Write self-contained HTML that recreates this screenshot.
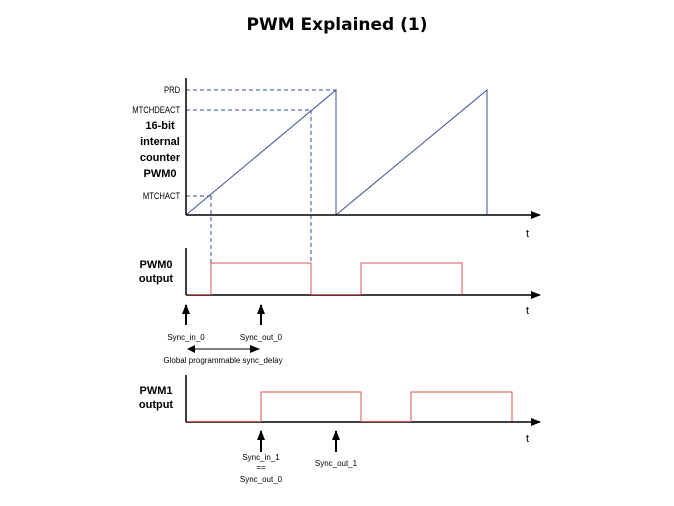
<!DOCTYPE html>
<html><head><style>
body{margin:0;background:#fff;width:674px;height:506px;overflow:hidden}
svg{display:block}
text{font-family:"Liberation Sans",Arial,sans-serif}
</style></head><body>
<svg width="674" height="506" viewBox="0 0 674 506">
<defs><marker id="a" markerWidth="10" markerHeight="8" refX="9" refY="4" orient="auto" markerUnits="userSpaceOnUse"><path d="M0,0L10,4L0,8z" fill="#000"/></marker>
<marker id="b" markerWidth="8" markerHeight="8" refX="1" refY="4" orient="auto" markerUnits="userSpaceOnUse"><path d="M8,0L0,4L8,8z" fill="#000"/></marker></defs>
<text x="337" y="30" font-size="17" font-weight="bold" text-anchor="middle" style="font-family:'DejaVu Sans',Verdana,sans-serif">PWM Explained (1)</text>
<!-- counter -->
<g stroke="#3a4f9a" stroke-width="1" fill="none">
<path d="M186,215L336,90L336,215M336,215L487,90L487,215"/>
<g stroke-dasharray="4,3"><path d="M186,90H336M186,110H311M186,196H211M211,196V263M311,110V295"/></g>
</g>
<g stroke="#000" stroke-width="1.5" fill="none">
<path d="M186,78V215" /><path d="M186,215H540" marker-end="url(#a)"/>
<path d="M186,248V295"/><path d="M186,295H540" marker-end="url(#a)"/>
<path d="M186,375V422"/><path d="M186,422H540" marker-end="url(#a)"/>
</g>
<g font-size="9" text-anchor="end" transform="scale(0.85,1)" >
<text x="212" y="93">PRD</text><text x="212" y="113">MTCHDEACT</text><text x="212" y="199">MTCHACT</text></g>
<g font-size="11" font-weight="bold" text-anchor="middle">
<text x="160" y="129">16-bit</text><text x="160" y="145">internal</text><text x="160" y="161">counter</text><text x="160" y="177">PWM0</text>
<text x="156" y="268">PWM0</text><text x="156" y="282">output</text>
<text x="156" y="394">PWM1</text><text x="156" y="408">output</text></g>
<g font-size="11"><text x="526" y="237">t</text><text x="526" y="314">t</text><text x="526" y="442">t</text></g>
<!-- pulses -->
<g stroke="#d9534f" stroke-width="1" fill="none">
<path d="M187,294.5H211V263H311V294.5H361V263H462V294.5"/>
<path d="M187,421.5H261V392H361V421.5H411V392H512V421.5"/>
</g>
<!-- sync arrows -->
<g stroke="#000" stroke-width="2">
<path d="M186,325V305" marker-end="url(#a)"/><path d="M261,325V305" marker-end="url(#a)"/>
<path d="M261,452V431" marker-end="url(#a)"/><path d="M336,452V431" marker-end="url(#a)"/>
</g>
<path d="M188,349H259" stroke="#000" stroke-width="1" marker-start="url(#b)" marker-end="url(#a)"/>
<g font-size="8" text-anchor="middle">
<text x="186" y="340">Sync_in_0</text><text x="261" y="340">Sync_out_0</text>
<text x="223" y="363">Global programmable sync_delay</text>
<text x="261" y="460">Sync_in_1</text><text x="261" y="470">==</text><text x="261" y="482">Sync_out_0</text>
<text x="336" y="466">Sync_out_1</text></g>
</svg>
</body></html>
